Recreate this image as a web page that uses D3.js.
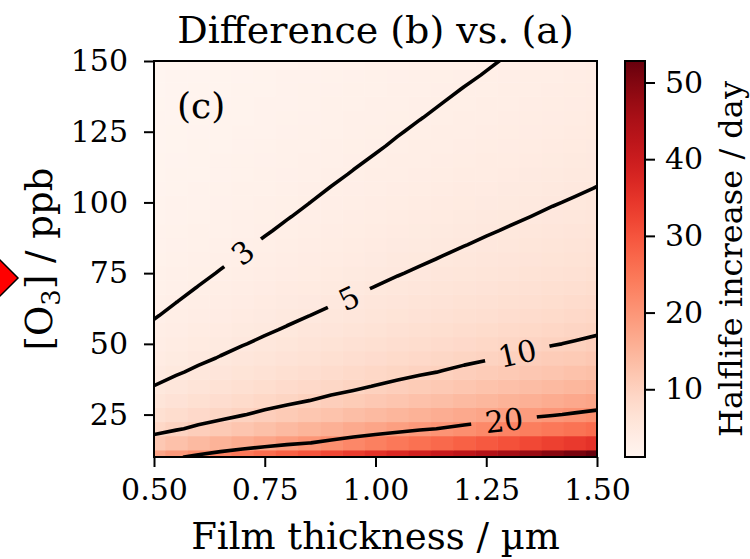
<!DOCTYPE html>
<html>
<head>
<meta charset="utf-8">
<script src="https://cdn.jsdelivr.net/npm/d3@7"></script>
<style>
  body { margin: 0; background: #fff; }
  text { font-family: "DejaVu Serif", serif; fill: #000; }
</style>
</head>
<body>
<div id="chart"></div>
<script>
// grid: film thickness (µm) across, ozone (ppb) up
const thickness = [0.50, 0.55, 0.60, 0.65, 0.70, 0.75, 0.80, 0.85, 0.90, 0.95, 1.00,
                   1.05, 1.10, 1.15, 1.20, 1.25, 1.30, 1.35, 1.40, 1.45, 1.50];
const ozone = [10, 15, 20, 25, 30, 35, 40, 45, 50, 55, 60, 65, 70, 75, 80,
               85, 90, 95, 100, 105, 110, 115, 120, 125, 130, 135, 140, 145, 150];

// halflife increase / day, one row per ozone value (bottom to top)
const halflifeIncrease = [
    [17.6, 19.4, 21.1, 22.9, 24.6, 26.4, 28.2, 29.9, 31.7, 33.4, 35.2, 37.0, 38.7, 40.5, 42.2, 44.0, 45.8, 47.5, 49.3, 51.0, 52.8],
    [11.7, 12.9, 14.1, 15.3, 16.4, 17.6, 18.8, 19.9, 21.1, 22.3, 23.5, 24.6, 25.8, 27.0, 28.2, 29.3, 30.5, 31.7, 32.9, 34.0, 35.2],
    [8.80, 9.68, 10.6, 11.4, 12.3, 13.2, 14.1, 15.0, 15.8, 16.7, 17.6, 18.5, 19.4, 20.2, 21.1, 22.0, 22.9, 23.8, 24.6, 25.5, 26.4],
    [7.04, 7.74, 8.45, 9.15, 9.86, 10.6, 11.3, 12.0, 12.7, 13.4, 14.1, 14.8, 15.5, 16.2, 16.9, 17.6, 18.3, 19.0, 19.7, 20.4, 21.1],
    [5.87, 6.45, 7.04, 7.63, 8.21, 8.80, 9.39, 9.97, 10.6, 11.1, 11.7, 12.3, 12.9, 13.5, 14.1, 14.7, 15.3, 15.8, 16.4, 17.0, 17.6],
    [5.03, 5.53, 6.03, 6.54, 7.04, 7.54, 8.05, 8.55, 9.05, 9.55, 10.1, 10.6, 11.1, 11.6, 12.1, 12.6, 13.1, 13.6, 14.1, 14.6, 15.1],
    [4.40, 4.84, 5.28, 5.72, 6.16, 6.60, 7.04, 7.48, 7.92, 8.36, 8.80, 9.24, 9.68, 10.1, 10.6, 11.0, 11.4, 11.9, 12.3, 12.8, 13.2],
    [3.91, 4.30, 4.69, 5.08, 5.48, 5.87, 6.26, 6.65, 7.04, 7.43, 7.82, 8.21, 8.60, 9.00, 9.39, 9.78, 10.2, 10.6, 11.0, 11.3, 11.7],
    [3.52, 3.87, 4.22, 4.58, 4.93, 5.28, 5.63, 5.98, 6.34, 6.69, 7.04, 7.39, 7.74, 8.10, 8.45, 8.80, 9.15, 9.50, 9.86, 10.2, 10.6],
    [3.20, 3.52, 3.84, 4.16, 4.48, 4.80, 5.12, 5.44, 5.76, 6.08, 6.40, 6.72, 7.04, 7.36, 7.68, 8.00, 8.32, 8.64, 8.96, 9.28, 9.60],
    [2.93, 3.23, 3.52, 3.81, 4.11, 4.40, 4.69, 4.99, 5.28, 5.57, 5.87, 6.16, 6.45, 6.75, 7.04, 7.33, 7.63, 7.92, 8.21, 8.51, 8.80],
    [2.71, 2.98, 3.25, 3.52, 3.79, 4.06, 4.33, 4.60, 4.87, 5.14, 5.42, 5.69, 5.96, 6.23, 6.50, 6.77, 7.04, 7.31, 7.58, 7.85, 8.12],
    [2.51, 2.77, 3.02, 3.27, 3.52, 3.77, 4.02, 4.27, 4.53, 4.78, 5.03, 5.28, 5.53, 5.78, 6.03, 6.29, 6.54, 6.79, 7.04, 7.29, 7.54],
    [2.35, 2.58, 2.82, 3.05, 3.29, 3.52, 3.76, 3.99, 4.22, 4.46, 4.69, 4.93, 5.16, 5.40, 5.63, 5.87, 6.10, 6.34, 6.57, 6.81, 7.04],
    [2.20, 2.42, 2.64, 2.86, 3.08, 3.30, 3.52, 3.74, 3.96, 4.18, 4.40, 4.62, 4.84, 5.06, 5.28, 5.50, 5.72, 5.94, 6.16, 6.38, 6.60],
    [2.07, 2.28, 2.48, 2.69, 2.90, 3.11, 3.31, 3.52, 3.73, 3.93, 4.14, 4.35, 4.56, 4.76, 4.97, 5.18, 5.38, 5.59, 5.80, 6.00, 6.21],
    [1.96, 2.15, 2.35, 2.54, 2.74, 2.93, 3.13, 3.32, 3.52, 3.72, 3.91, 4.11, 4.30, 4.50, 4.69, 4.89, 5.08, 5.28, 5.48, 5.67, 5.87],
    [1.85, 2.04, 2.22, 2.41, 2.59, 2.78, 2.96, 3.15, 3.34, 3.52, 3.71, 3.89, 4.08, 4.26, 4.45, 4.63, 4.82, 5.00, 5.19, 5.37, 5.56],
    [1.76, 1.94, 2.11, 2.29, 2.46, 2.64, 2.82, 2.99, 3.17, 3.34, 3.52, 3.70, 3.87, 4.05, 4.22, 4.40, 4.58, 4.75, 4.93, 5.10, 5.28],
    [1.68, 1.84, 2.01, 2.18, 2.35, 2.51, 2.68, 2.85, 3.02, 3.18, 3.35, 3.52, 3.69, 3.86, 4.02, 4.19, 4.36, 4.53, 4.69, 4.86, 5.03],
    [1.60, 1.76, 1.92, 2.08, 2.24, 2.40, 2.56, 2.72, 2.88, 3.04, 3.20, 3.36, 3.52, 3.68, 3.84, 4.00, 4.16, 4.32, 4.48, 4.64, 4.80],
    [1.53, 1.68, 1.84, 1.99, 2.14, 2.30, 2.45, 2.60, 2.76, 2.91, 3.06, 3.21, 3.37, 3.52, 3.67, 3.83, 3.98, 4.13, 4.29, 4.44, 4.59],
    [1.47, 1.61, 1.76, 1.91, 2.05, 2.20, 2.35, 2.49, 2.64, 2.79, 2.93, 3.08, 3.23, 3.37, 3.52, 3.67, 3.81, 3.96, 4.11, 4.25, 4.40],
    [1.41, 1.55, 1.69, 1.83, 1.97, 2.11, 2.25, 2.39, 2.53, 2.68, 2.82, 2.96, 3.10, 3.24, 3.38, 3.52, 3.66, 3.80, 3.94, 4.08, 4.22],
    [1.35, 1.49, 1.62, 1.76, 1.90, 2.03, 2.17, 2.30, 2.44, 2.57, 2.71, 2.84, 2.98, 3.11, 3.25, 3.38, 3.52, 3.66, 3.79, 3.93, 4.06],
    [1.30, 1.43, 1.56, 1.69, 1.83, 1.96, 2.09, 2.22, 2.35, 2.48, 2.61, 2.74, 2.87, 3.00, 3.13, 3.26, 3.39, 3.52, 3.65, 3.78, 3.91],
    [1.26, 1.38, 1.51, 1.63, 1.76, 1.89, 2.01, 2.14, 2.26, 2.39, 2.51, 2.64, 2.77, 2.89, 3.02, 3.14, 3.27, 3.39, 3.52, 3.65, 3.77],
    [1.21, 1.34, 1.46, 1.58, 1.70, 1.82, 1.94, 2.06, 2.18, 2.31, 2.43, 2.55, 2.67, 2.79, 2.91, 3.03, 3.16, 3.28, 3.40, 3.52, 3.64],
    [1.17, 1.29, 1.41, 1.53, 1.64, 1.76, 1.88, 1.99, 2.11, 2.23, 2.35, 2.46, 2.58, 2.70, 2.82, 2.93, 3.05, 3.17, 3.29, 3.40, 3.52]
];

const contourLevels = [3, 5, 10, 20];
const xTicks = [0.50, 0.75, 1.00, 1.25, 1.50];
const yTicks = [25, 50, 75, 100, 125, 150];
const colorbarTicks = [10, 20, 30, 40, 50];

// where along x (µm) each contour label sits
const labelAt = [0.70, 0.94, 1.32, 1.29];

const config = {
    width: 750,
    height: 559,
    plot: { left: 154, right: 597, top: 61, bottom: 457 },
    bar: { left: 625, right: 645 },
    tickFont: 30,
    labelFont: 37,
    titleFont: 38,
    clabelFont: 30,
    tickLen: 10
};

const svg = d3.select('#chart').append('svg')
    .attr('width', config.width)
    .attr('height', config.height);

const x = d3.scaleLinear().domain([0.5, 1.5]).range([config.plot.left, config.plot.right]);
const y = d3.scaleLinear().domain([10, 150]).range([config.plot.bottom, config.plot.top]);

const flat = halflifeIncrease.flat();
const color = d3.scaleSequential(d3.interpolateReds).domain(d3.extent(flat));

const defs = svg.append('defs');
defs.append('clipPath').attr('id', 'plot-clip')
    .append('rect')
        .attr('x', config.plot.left).attr('y', config.plot.top)
        .attr('width', config.plot.right - config.plot.left)
        .attr('height', config.plot.bottom - config.plot.top);

// cell edges halfway between grid points, clamped to the axes
const edges = arr => arr.map((v, i) => [
    i === 0 ? v : (arr[i - 1] + v) / 2,
    i === arr.length - 1 ? v : (v + arr[i + 1]) / 2
]);
const xEdges = edges(thickness);
const yEdges = edges(ozone);

const cells = [];
halflifeIncrease.forEach((row, j) => row.forEach((v, i) => cells.push({ i, j, v })));

svg.append('g').attr('clip-path', 'url(#plot-clip)')
    .selectAll('rect')
    .data(cells)
    .enter().append('rect')
        .attr('x', d => x(xEdges[d.i][0]))
        .attr('y', d => y(yEdges[d.j][1]))
        .attr('width', d => x(xEdges[d.i][1]) - x(xEdges[d.i][0]) + 0.5)
        .attr('height', d => y(yEdges[d.j][0]) - y(yEdges[d.j][1]) + 0.5)
        .attr('fill', d => color(d.v));

// contours: grid coordinate k+0.5 is the k-th grid value
const nx = thickness.length, ny = ozone.length;
const gx = d3.scaleLinear().domain([0.5, nx - 0.5]).range([thickness[0], thickness[nx - 1]]);
const gy = d3.scaleLinear().domain([0.5, ny - 0.5]).range([ozone[0], ozone[ny - 1]]);
const toPx = p => [x(gx(p[0])), y(gy(p[1]))];

const contours = d3.contours().size([nx, ny]).thresholds(contourLevels)(flat);

const path = d3.geoPath(d3.geoTransform({
    point(px, py) {
        const p = toPx([px, py]);
        this.stream.point(p[0], p[1]);
    }
}));

// find label spot and angle on each contour
const inside = p => p[1] > config.plot.top && p[1] < config.plot.bottom
    && p[0] > config.plot.left && p[0] < config.plot.right;

const labels = contours.map((c, k) => {
    const target = x(labelAt[k]);
    let best = null;
    c.coordinates.forEach(poly => poly.forEach(ring => {
        const pts = ring.map(toPx);
        for (let m = 0; m < pts.length - 1; m++) {
            const [a, b] = [pts[m], pts[m + 1]];
            if (!inside(a) && !inside(b)) continue;
            if ((a[0] - target) * (b[0] - target) <= 0 && a[0] !== b[0]) {
                const t = (target - a[0]) / (b[0] - a[0]);
                let ang = Math.atan2(b[1] - a[1], b[0] - a[0]) * 180 / Math.PI;
                if (ang > 90) ang -= 180;
                if (ang < -90) ang += 180;
                best = { x: target, y: a[1] + t * (b[1] - a[1]), angle: ang, text: String(c.value) };
            }
        }
    }));
    return best;
}).filter(d => d);

// gaps in the lines under the labels
const mask = defs.append('mask').attr('id', 'label-gaps');
mask.append('rect').attr('width', config.width).attr('height', config.height).attr('fill', '#fff');
mask.selectAll('rect.gap')
    .data(labels)
    .enter().append('rect')
        .attr('class', 'gap')
        .attr('x', d => -(d.text.length * 10 + 13))
        .attr('y', -15)
        .attr('width', d => 2 * (d.text.length * 10 + 13))
        .attr('height', 30)
        .attr('fill', '#000')
        .attr('transform', d => `translate(${d.x},${d.y}) rotate(${d.angle})`);

svg.append('g').attr('clip-path', 'url(#plot-clip)')
    .append('g').attr('mask', 'url(#label-gaps)')
    .selectAll('path')
    .data(contours)
    .enter().append('path')
        .attr('d', path)
        .attr('fill', 'none')
        .attr('stroke', '#000')
        .attr('stroke-width', 3.6)
        .attr('stroke-linejoin', 'round');

svg.append('g').selectAll('text')
    .data(labels)
    .enter().append('text')
        .attr('transform', d => `translate(${d.x},${d.y}) rotate(${d.angle})`)
        .attr('text-anchor', 'middle')
        .attr('dy', '0.36em')
        .style('font-size', config.clabelFont + 'px')
        .text(d => d.text);

// frame and axes
svg.append('rect')
    .attr('x', config.plot.left).attr('y', config.plot.top)
    .attr('width', config.plot.right - config.plot.left)
    .attr('height', config.plot.bottom - config.plot.top)
    .attr('fill', 'none').attr('stroke', '#000').attr('stroke-width', 2);

const styleAxis = g => {
    g.select('.domain').remove();
    g.selectAll('.tick line').attr('stroke', '#000').attr('stroke-width', 2);
    g.selectAll('.tick text').style('font-size', config.tickFont + 'px')
        .style('font-family', '"DejaVu Serif", serif').attr('fill', '#000');
};

svg.append('g')
    .attr('transform', `translate(0,${config.plot.bottom})`)
    .call(d3.axisBottom(x).tickValues(xTicks).tickFormat(d3.format('.2f'))
        .tickSize(config.tickLen).tickPadding(12))
    .call(styleAxis);

svg.append('g')
    .attr('transform', `translate(${config.plot.left},0)`)
    .call(d3.axisLeft(y).tickValues(yTicks).tickSize(config.tickLen).tickPadding(16))
    .call(styleAxis);

// colorbar
const cb = d3.scaleLinear().domain(color.domain())
    .range([config.plot.bottom, config.plot.top]);
const grad = defs.append('linearGradient').attr('id', 'cb-grad')
    .attr('x1', 0).attr('y1', 1).attr('x2', 0).attr('y2', 0);
d3.range(0, 1.0001, 0.05).forEach(t => {
    grad.append('stop').attr('offset', t)
        .attr('stop-color', d3.interpolateReds(t));
});
svg.append('rect')
    .attr('x', config.bar.left).attr('y', config.plot.top)
    .attr('width', config.bar.right - config.bar.left)
    .attr('height', config.plot.bottom - config.plot.top)
    .attr('fill', 'url(#cb-grad)')
    .attr('stroke', '#000').attr('stroke-width', 2);

svg.append('g')
    .attr('transform', `translate(${config.bar.right},0)`)
    .call(d3.axisRight(cb).tickValues(colorbarTicks).tickSize(config.tickLen).tickPadding(10))
    .call(styleAxis);

// texts
svg.append('text')
    .attr('x', (config.plot.left + config.plot.right) / 2).attr('y', 43)
    .attr('text-anchor', 'middle')
    .style('font-size', config.titleFont + 'px')
    .text('Difference (b) vs. (a)');

svg.append('text')
    .attr('x', (config.plot.left + config.plot.right) / 2).attr('y', 549)
    .attr('text-anchor', 'middle')
    .style('font-size', config.labelFont + 'px')
    .text('Film thickness / µm');

const yl = svg.append('text')
    .attr('transform', `translate(52,${(config.plot.top + config.plot.bottom) / 2}) rotate(-90)`)
    .attr('text-anchor', 'middle')
    .style('font-size', config.labelFont + 'px');
yl.append('tspan').text('[O');
yl.append('tspan').attr('dy', 8).style('font-size', '26px').text('3');
yl.append('tspan').attr('dy', -8).text('] / ppb');

svg.append('text')
    .attr('transform', `translate(742,${(config.plot.top + config.plot.bottom) / 2}) rotate(-90)`)
    .attr('text-anchor', 'middle')
    .style('font-size', '32px')
    .text('Halflife increase / day');

svg.append('text')
    .attr('x', 177).attr('y', 118)
    .style('font-size', '36px')
    .text('(c)');

// red marker cut off at the left edge
svg.append('path')
    .attr('d', 'M-18,278 L0,260 L18,278 L0,296 Z')
    .attr('fill', '#f00').attr('stroke', '#000').attr('stroke-width', 1.5);
</script>
</body>
</html>
